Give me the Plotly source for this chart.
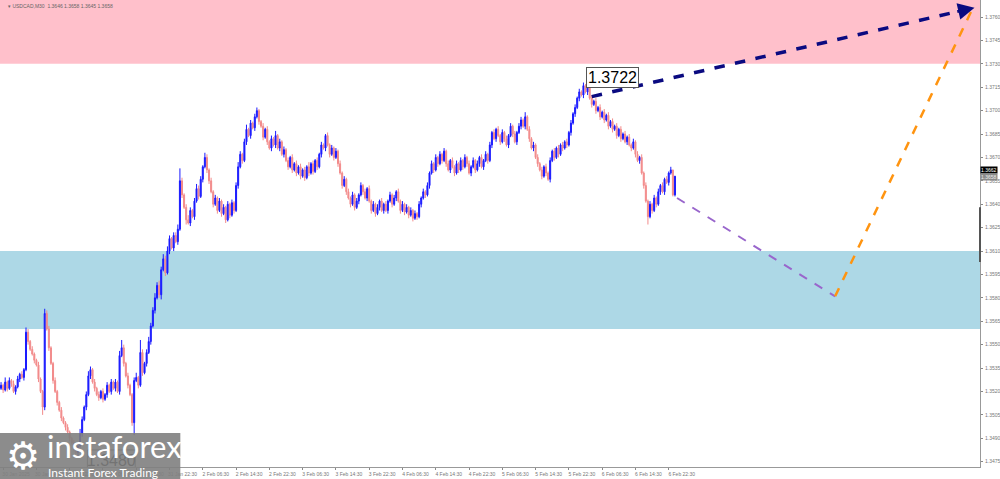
import plotly.graph_objects as go

# USDCAD M30, prices in points (13524 -> 1.3524)
FIRST_OPEN = 13522
CLOSE = [
    13524, 13521, 13526, 13522, 13527, 13525, 13520, 13523, 13528, 13531,
    13529, 13534, 13558, 13552, 13547, 13544, 13540, 13537, 13528, 13520,
    13510, 13570, 13560, 13548, 13538, 13527, 13520, 13513, 13508, 13503,
    13500, 13497, 13494, 13490, 13487, 13484, 13481, 13485, 13493, 13502,
    13510, 13518, 13530, 13534, 13526, 13522, 13518, 13516, 13520, 13515,
    13518, 13524, 13520, 13526, 13522, 13526, 13520, 13543, 13548, 13538,
    13530, 13524, 13518, 13500, 13527, 13529, 13524, 13545, 13532, 13538,
    13545, 13552, 13562, 13572, 13580, 13588, 13582, 13598, 13605, 13596,
    13610, 13618, 13612, 13620, 13616, 13624, 13655, 13646, 13638, 13630,
    13628, 13636, 13632, 13642, 13650, 13645, 13656, 13664, 13670, 13662,
    13655, 13648, 13640, 13644, 13636, 13642, 13634, 13638, 13630, 13640,
    13633, 13641, 13636, 13652, 13664, 13672, 13668, 13680, 13688, 13684,
    13692, 13689, 13696, 13700, 13693, 13690, 13683, 13688, 13680, 13676,
    13682, 13678, 13684, 13676, 13680, 13672, 13675, 13668, 13664, 13670,
    13662, 13666, 13660, 13664, 13658, 13662, 13657, 13664, 13660, 13666,
    13661, 13668, 13664, 13672, 13678, 13676, 13684, 13678, 13672, 13676,
    13670, 13674, 13666, 13660, 13652, 13656, 13648, 13644, 13640, 13646,
    13638, 13642, 13646, 13652, 13648, 13644, 13650, 13642, 13636, 13640,
    13634, 13638, 13642, 13636, 13640, 13636, 13642, 13646, 13640, 13644,
    13648, 13642, 13636, 13640, 13635, 13638, 13633, 13636, 13631, 13634,
    13632, 13640, 13644, 13648, 13646, 13652, 13660, 13666, 13662, 13670,
    13666, 13672, 13668, 13674, 13666, 13662, 13668, 13664, 13660, 13666,
    13662, 13668, 13664, 13670, 13666, 13660, 13664, 13668, 13662, 13666,
    13670, 13664, 13668, 13672, 13668, 13678, 13686, 13682, 13688, 13684,
    13680, 13686, 13682, 13678, 13684, 13690, 13685, 13680, 13686, 13690,
    13694, 13690, 13696, 13688, 13682, 13676, 13678, 13670, 13666, 13662,
    13658, 13664, 13660, 13656, 13668, 13674, 13670, 13676, 13672, 13678,
    13676, 13680, 13678, 13686, 13692, 13698, 13702, 13708, 13712, 13710,
    13716, 13712, 13718, 13708, 13704, 13706, 13700, 13702, 13696, 13699,
    13694, 13697, 13690, 13693, 13688, 13690, 13684, 13688, 13682, 13685,
    13680, 13683, 13678, 13676, 13680, 13672, 13668, 13670, 13660, 13652,
    13642, 13632, 13640, 13636, 13644, 13640, 13648, 13652, 13648, 13656,
    13654, 13660, 13662, 13646, 13658,
]
# wick lengths in points above the body top / below the body bottom
UPPER_WICK = [
    2, 1, 3, 1, 2, 1, 2, 1, 2, 1, 2, 1, 3, 2, 1, 2, 1, 1, 2, 1, 1, 3, 2, 2, 1,
    1, 2, 1, 1, 2, 1, 1, 2, 1, 1, 2, 1, 2, 3, 2, 1, 2, 3, 2, 1, 2, 1, 2, 1, 2,
    1, 2, 1, 2, 1, 2, 1, 3, 5, 2, 1, 2, 1, 1, 2, 3, 1, 8, 2, 1, 2, 3, 2, 2, 3,
    2, 3, 2, 3, 2, 3, 2, 1, 2, 2, 3, 8, 2, 1, 2, 3, 2, 1, 2, 3, 2, 2, 1, 3, 2,
    1, 2, 1, 2, 1, 2, 1, 2, 1, 2, 1, 2, 1, 2, 3, 2, 1, 2, 3, 1, 2, 1, 2, 2, 1,
    1, 2, 1, 2, 1, 2, 1, 3, 1, 2, 1, 2, 1, 2, 1, 2, 1, 2, 1, 2, 1, 2, 1, 3, 1,
    2, 1, 2, 1, 2, 1, 1, 2, 1, 2, 1, 2, 1, 2, 1, 2, 1, 2, 1, 2, 1, 2, 1, 2, 1,
    2, 1, 2, 1, 2, 1, 2, 1, 2, 1, 2, 1, 2, 1, 2, 1, 2, 1, 2, 1, 2, 1, 2, 1, 2,
    1, 2, 1, 2, 1, 2, 1, 2, 1, 2, 1, 2, 1, 2, 1, 2, 1, 2, 1, 2, 1, 2, 1, 2, 1,
    2, 1, 2, 1, 2, 1, 2, 1, 2, 1, 2, 1, 2, 1, 2, 1, 2, 1, 2, 1, 2, 1, 2, 1, 2,
    2, 1, 3, 1, 2, 1, 2, 1, 2, 1, 2, 1, 2, 1, 2, 1, 2, 1, 2, 1, 2, 1, 2, 1, 2,
    1, 2, 1, 2, 1, 2, 1, 4, 1, 2, 1, 2, 1, 2, 1, 2, 1, 2, 1, 2, 1, 2, 1, 2, 1,
    2, 1, 2, 1, 2, 1, 2, 1, 2, 1, 2, 1, 2, 1, 2, 1, 2, 1, 2, 1, 2, 1, 2, 0, 0,
]
LOWER_WICK = [
    1, 2, 1, 2, 1, 2, 1, 2, 1, 2, 1, 2, 1, 2, 1, 1, 2, 1, 2, 1, 5, 2, 1, 2, 1,
    2, 1, 2, 1, 2, 1, 2, 1, 2, 1, 2, 1, 2, 1, 2, 1, 2, 1, 2, 1, 2, 1, 2, 1, 2,
    1, 2, 1, 2, 1, 2, 1, 2, 1, 2, 1, 2, 1, 2, 8, 1, 2, 1, 2, 1, 2, 1, 2, 1, 2,
    1, 2, 3, 1, 2, 1, 2, 1, 2, 1, 2, 1, 2, 1, 3, 1, 2, 1, 2, 1, 2, 1, 2, 1, 2,
    2, 1, 2, 1, 2, 1, 2, 1, 2, 1, 2, 1, 2, 1, 2, 1, 2, 1, 2, 1, 2, 1, 2, 1, 2,
    1, 2, 1, 2, 1, 2, 1, 2, 1, 2, 1, 2, 1, 2, 1, 2, 1, 2, 1, 2, 1, 2, 1, 2, 1,
    2, 1, 2, 1, 2, 1, 2, 1, 2, 1, 2, 1, 2, 1, 2, 1, 2, 1, 2, 1, 2, 1, 2, 1, 2,
    1, 2, 1, 2, 1, 2, 1, 2, 1, 2, 1, 2, 1, 2, 1, 2, 1, 2, 1, 2, 1, 2, 1, 2, 1,
    2, 1, 2, 1, 2, 1, 2, 1, 2, 1, 2, 1, 2, 1, 2, 1, 2, 1, 2, 1, 2, 1, 2, 1, 2,
    1, 2, 1, 2, 1, 2, 1, 2, 1, 2, 1, 2, 1, 2, 1, 2, 1, 2, 1, 2, 1, 2, 1, 2, 1,
    2, 1, 2, 1, 2, 1, 2, 1, 2, 1, 2, 1, 2, 1, 2, 1, 2, 1, 2, 1, 2, 1, 2, 1, 2,
    1, 2, 1, 2, 1, 2, 1, 2, 1, 2, 1, 2, 1, 2, 1, 2, 1, 2, 1, 2, 1, 2, 1, 2, 1,
    1, 2, 1, 2, 1, 2, 1, 2, 1, 2, 1, 5, 1, 2, 1, 2, 1, 2, 1, 2, 1, 2, 1, 1, 1,
]

TICK_BARS = list(range(1, 322, 16))
TICK_LABELS = [
    "30 Jan 2025", "30 Jan 14:30", "30 Jan 22:30", "31 Jan 06:30", "31 Jan 14:30",
    "31 Jan 22:30", "2 Feb 06:30", "2 Feb 14:30", "2 Feb 22:30", "3 Feb 06:30",
    "3 Feb 14:30", "3 Feb 22:30", "4 Feb 06:30", "4 Feb 14:30", "4 Feb 22:30",
    "5 Feb 06:30", "5 Feb 14:30", "5 Feb 22:30", "6 Feb 06:30", "6 Feb 14:30",
    "6 Feb 22:30",
]

RESIST_ZONE = (1.3730, 1.3790)
SUPPORT_ZONE = (1.3560, 1.3610)
# forecast paths: (bar, price)
TREND_LINE = [(284, 1.3709), (468, 1.3766)]
DOWN_LEG = [(325, 1.3644), (401, 1.3581)]
UP_LEG = [(401, 1.3581), (468, 1.3768)]
PEAK = (294, 1.3721, "1.3722")
TROUGH = (53, 1.3475, "1.3480")

opens = [FIRST_OPEN] + CLOSE[:-1]
o = [v / 10000 for v in opens]
c = [v / 10000 for v in CLOSE]
h = [(max(a, b) + w) / 10000 for a, b, w in zip(opens, CLOSE, UPPER_WICK)]
lo = [(min(a, b) - w) / 10000 for a, b, w in zip(opens, CLOSE, LOWER_WICK)]
bars = list(range(len(CLOSE)))

BULL = "#1a1aff"
BEAR = "#f28b8b"
SMALL = dict(family="Liberation Sans", size=5, color="#777777")

fig = go.Figure()
fig.add_trace(go.Candlestick(
    x=bars, open=o, high=h, low=lo, close=c,
    increasing=dict(line=dict(color=BULL, width=1), fillcolor=BULL),
    decreasing=dict(line=dict(color=BEAR, width=1), fillcolor=BEAR),
    whiskerwidth=0, showlegend=False, hoverinfo="skip",
))

for path, color, width in [(DOWN_LEG, "#9966cc", 2), (UP_LEG, "#ff9410", 2.5), (TREND_LINE, "#0a0a80", 3.5)]:
    fig.add_trace(go.Scatter(
        x=[p[0] for p in path], y=[p[1] for p in path], mode="lines",
        line=dict(color=color, width=width, dash="dash"), showlegend=False, hoverinfo="skip",
    ))

# low marker text sits under the logo plate, so it is a trace rather than an annotation
fig.add_trace(go.Scatter(
    x=[TROUGH[0]], y=[TROUGH[1]], mode="text", text=[TROUGH[2]],
    textfont=dict(family="Liberation Sans", size=16, color="black"),
    showlegend=False, hoverinfo="skip",
))

shapes = [
    dict(type="rect", xref="paper", yref="y", x0=0, x1=1, y0=RESIST_ZONE[0], y1=RESIST_ZONE[1],
         fillcolor="#ffc0cb", line=dict(width=0), layer="below"),
    dict(type="rect", xref="paper", yref="y", x0=0, x1=1, y0=SUPPORT_ZONE[0], y1=SUPPORT_ZONE[1],
         fillcolor="#add8e6", line=dict(width=0), layer="below"),
    dict(type="line", xref="paper", yref="y", x0=1, x1=1, y0=1.3603, y1=1.3638,
         line=dict(color="#555555", width=2)),
    dict(type="rect", xref="x", yref="y", x0=TROUGH[0] - 11.5, x1=TROUGH[0] + 11.5,
         y0=TROUGH[1] - 0.00075, y1=TROUGH[1] + 0.00075,
         fillcolor="rgba(255,255,255,0)", line=dict(color="#555555", width=1), layer="below"),
    # logo plate
    dict(type="rect", xref="paper", yref="paper", x0=0, x1=0.184, y0=-0.026, y1=0.073,
         fillcolor="rgba(128,128,128,0.9)", line=dict(width=0), layer="above"),
]

tx, ty = TREND_LINE[1]
annotations = [
    dict(x=tx, y=ty, ax=tx - 9, ay=ty - 0.00028, xref="x", yref="y", axref="x", ayref="y",
         showarrow=True, arrowhead=2, arrowsize=1.1, arrowwidth=3, arrowcolor="#0a0a80", text=""),
    dict(x=PEAK[0], y=PEAK[1], text=PEAK[2], showarrow=False, bgcolor="white",
         bordercolor="#555555", borderwidth=1, borderpad=1,
         font=dict(family="Liberation Sans", size=16, color="black")),
    dict(x=0.006, y=0.998, xref="paper", yref="paper", xanchor="left", yanchor="top",
         text="▾ USDCAD,M30  1.3646 1.3658 1.3645 1.3658", showarrow=False,
         font=dict(family="Liberation Sans", size=5, color="#666666")),
    dict(x=1, y=1.3662, xref="paper", yref="y", xanchor="left", text="1.3662", showarrow=False,
         bgcolor="black", borderpad=0, font=dict(family="Liberation Sans", size=5, color="white")),
    dict(x=1, y=1.36575, xref="paper", yref="y", xanchor="left", text="1.3658", showarrow=False,
         bgcolor="#8a8a8a", borderpad=0, font=dict(family="Liberation Sans", size=5, color="#eeeeee")),
    # logo
    dict(x=0.004, y=0.024, xref="paper", yref="paper", xanchor="left", yanchor="middle",
         text="⚙", showarrow=False, font=dict(family="DejaVu Sans", size=38, color="white")),
    dict(x=0.046, y=0.045, xref="paper", yref="paper", xanchor="left", yanchor="middle",
         text="instaforex", showarrow=False, font=dict(family="Lato", size=31, color="white")),
    dict(x=0.047, y=-0.011, xref="paper", yref="paper", xanchor="left", yanchor="middle",
         text="Instant Forex Trading", showarrow=False, font=dict(family="Lato", size=12, color="white")),
]

fig.update_layout(
    width=1000, height=479,
    margin=dict(l=0, r=20, t=0, b=12, autoexpand=False),
    plot_bgcolor="white", paper_bgcolor="white",
    shapes=shapes, annotations=annotations,
    xaxis=dict(
        range=[-0.5, 470.65], rangeslider=dict(visible=False), showgrid=False, zeroline=False,
        automargin=False, tickmode="array", tickvals=TICK_BARS, ticktext=TICK_LABELS, tickangle=0,
        ticks="outside", ticklen=2, tickcolor="#888888", ticklabelshift=13, ticklabelstandoff=0,
        tickfont=SMALL, showline=True, linecolor="#999999", linewidth=1,
    ),
    yaxis=dict(
        range=[1.34716, 1.37709], side="right", showgrid=False, zeroline=False, automargin=False,
        tick0=1.3475, dtick=0.0015, tickformat=".4f",
        ticks="outside", ticklen=2, tickcolor="#888888", ticklabelstandoff=1,
        tickfont=SMALL, showline=True, linecolor="#999999", linewidth=1,
    ),
)

# the page body has a default 8px margin; drop it so the figure fills the window
fig.write_html("out.html", config={"displayModeBar": False},
               post_script="document.body.style.margin='0';")
